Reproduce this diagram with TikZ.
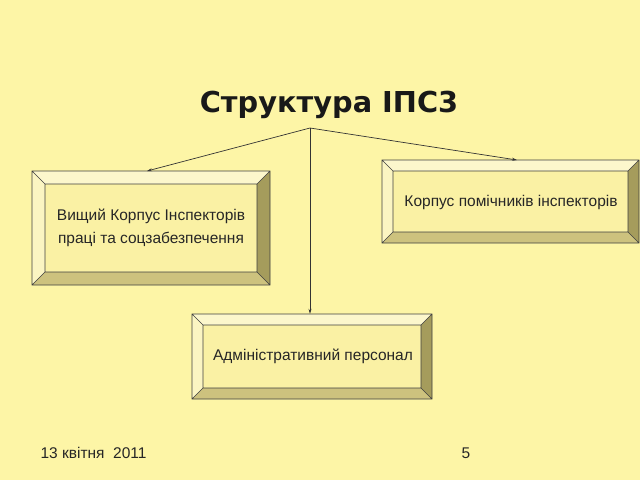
\documentclass[tikz,border=0pt]{standalone}
\usepackage{fontspec}
\setmainfont{Liberation Sans}
\newfontfamily\titlefont{DejaVu Sans}
\usetikzlibrary{arrows.meta}
\definecolor{bg}{HTML}{FDF5A6}
\definecolor{face}{HTML}{FAF1A4}
\definecolor{bevtop}{HTML}{FCF7CC}
\definecolor{bevleft}{HTML}{FBF5C2}
\definecolor{bevbot}{HTML}{CDC27E}
\definecolor{bevright}{HTML}{A59C5C}
\tikzset{
  conn/.style={draw=black!80, line width=0.7pt, -{Stealth[length=5pt,width=3pt]}},
  lbl/.style={font=\fontsize{15.5}{23}\selectfont, align=center, text=black!85},
}
% bevel box: #1 name, #2 x1, #3 y1, #4 x2, #5 y2, #6 bevel
\newcommand{\bevbox}[6]{%
  \fill[bevtop] (#2,#3) -- (#4,#3) -- (#4-#6,#3+#6) -- (#2+#6,#3+#6) -- cycle;
  \fill[bevleft] (#2,#3) -- (#2+#6,#3+#6) -- (#2+#6,#5-#6) -- (#2,#5) -- cycle;
  \fill[bevbot] (#2,#5) -- (#2+#6,#5-#6) -- (#4-#6,#5-#6) -- (#4,#5) -- cycle;
  \fill[bevright] (#4,#3) -- (#4,#5) -- (#4-#6,#5-#6) -- (#4-#6,#3+#6) -- cycle;
  \fill[face] (#2+#6,#3+#6) rectangle (#4-#6,#5-#6);
  \draw[black!75, line width=0.6pt] (#2,#3) rectangle (#4,#5)
     (#2+#6,#3+#6) rectangle (#4-#6,#5-#6)
     (#2,#3) -- (#2+#6,#3+#6) (#4,#3) -- (#4-#6,#3+#6)
     (#2,#5) -- (#2+#6,#5-#6) (#4,#5) -- (#4-#6,#5-#6);
  \node[inner sep=0pt, minimum width=#4-#2, minimum height=#5-#3] (#1) at ({(#2+#4)/2},{(#3+#5)/2}) {};
}
\begin{document}
\begin{tikzpicture}[x=1pt,y=-1pt]
\fill[bg] (0,0) rectangle (640,480);
\useasboundingbox (0,0) rectangle (640,480);
\node[font=\titlefont\bfseries\fontsize{28.8}{34}\selectfont, text=black!90] (title) at (329,105) {Структура ІПС3};
\coordinate (hub) at (310,128);
\bevbox{b1}{32}{171}{270}{285}{13}
\bevbox{b2}{382}{160}{639}{243}{11}
\bevbox{b3}{192}{314}{432}{399}{11}
\node[lbl] (t1) at (151,228) {Вищий Корпус Інспекторів\\праці та соцзабезпечення};
\node[lbl] (t2) at (511,202) {Корпус помічників інспекторів};
\node[lbl] (t3) at (313,356) {Адміністративний персонал};
\draw[conn] (hub) -- (147,171);
\draw[conn] (hub) -- (517,160);
\draw[conn] (hub) -- (b3.north -| hub);
\node[lbl, anchor=west] (date) at (37,453) {13 квітня\ \ 2011};
\node[lbl] (page) at (466,453) {5};
\end{tikzpicture}
\end{document}
